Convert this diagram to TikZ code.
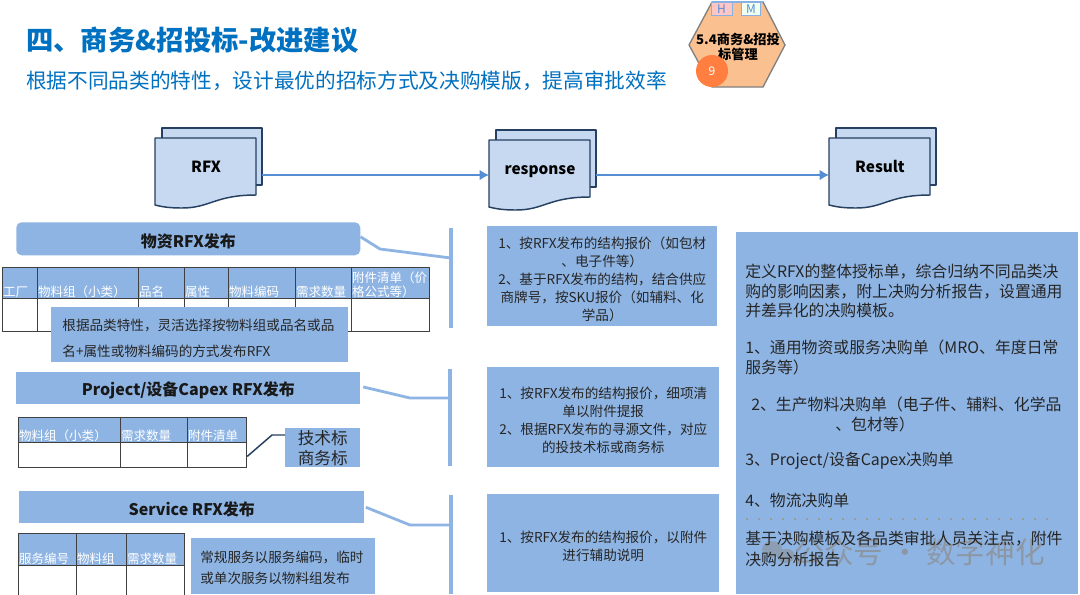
\documentclass[tikz,border=0pt]{standalone}
\usepackage{fontspec}
\usetikzlibrary{arrows.meta}
\setmainfont{Noto Sans CJK SC}
\newcommand{\fs}[2]{\fontsize{#1}{#2}\selectfont}
\definecolor{barblue}{HTML}{8EB4E3}
\definecolor{docfill}{HTML}{C6D9F1}
\definecolor{docline}{HTML}{254061}
\definecolor{linkblue}{HTML}{558ED5}
\definecolor{titleblue}{HTML}{0070C0}
\definecolor{hexfill}{HTML}{FAC090}
\definecolor{gridc}{HTML}{404040}
\tikzset{
 x=0.75pt,y=-0.75pt,
 bluebox/.style={fill=barblue,inner sep=0pt,text=black,align=center},
 bartext/.style={font=\fs{12}{14}\bfseries,text=black!90},
 hlink/.style={draw=barblue,line width=2.1pt,line join=round},
 vbar/.style={draw=barblue,line width=2.5pt},
 body/.style={font=\fs{10.2}{13.5},text=black!85,align=center,inner sep=0pt},
 rtext/.style={font=\fs{11.9}{14.6},text=black!85,align=left,inner sep=0pt,anchor=north west},
 hcell/.style={draw=gridc,line width=0.9pt,fill=barblue,inner sep=0pt},
 bcell/.style={draw=gridc,line width=0.9pt,fill=white,inner sep=0pt},
 htext/.style={font=\fs{9.4}{10.2},text=white,inner sep=0pt,anchor=south west,align=left},
 docshape/.style={draw=docline,fill=docfill,line width=1.1pt,line join=round},
 flow/.style={draw=linkblue,line width=2pt,-{Latex[length=7pt,width=8pt]}},
}
% \tblcell{name}{x1}{x2}{ytop}{ymid}{ybot}{header}
\newcommand{\tblcell}[7]{%
 \node[hcell,minimum width={(#3-#2)*0.75pt},minimum height={(#5-#4)*0.75pt},anchor=north west] (#1h) at (#2,#4) {};
 \node[bcell,minimum width={(#3-#2)*0.75pt},minimum height={(#6-#5)*0.75pt},anchor=north west] (#1b) at (#2,#5) {};
 \node[htext,text width={(#3-#2)*0.75pt}] (#1t) at ([xshift=0.6pt,yshift=1pt]#1h.south west) {#7};
}
% \docs{name}{x}{y}{label}
\newcommand{\docs}[4]{%
 \begin{scope}[shift={(#2,#3)}]
 \draw[docshape] (7,-10) -- (107,-10) -- (107,47) -- (7,47) -- cycle;
 \draw[docshape] (0,0) -- (101,0) -- (101,57) .. controls (60,57) and (55,70) .. (27,70) .. controls (15,70) and (8,69) .. (0,67) -- cycle;
 \node[font=\fs{11.5}{13}\bfseries,text=black,inner sep=0pt,anchor=base] (#1) at (51,34.5) {#4};
 \coordinate (#1w) at (0,175-#3);
 \coordinate (#1e) at (107,175-#3);
 \end{scope}}
\begin{document}
\begin{tikzpicture}
\useasboundingbox (0,0) rectangle (1080,594);
\fill[white] (0,0) rectangle (1080,594);
% titles
\node[anchor=west,inner sep=0pt,font=\fs{20.5}{24}\bfseries,text=titleblue] (title) at (26,40) {四、商务\&招投标-改进建议};
\node[anchor=west,inner sep=0pt,font=\fs{15.5}{18},text=titleblue] (subtitle) at (26,81) {根据不同品类的特性，设计最优的招标方式及决购模版，提高审批效率};
% hexagon
\draw[fill=hexfill,draw=gray,line width=1pt] (689,45)--(712,2)--(763,2)--(785,45)--(763,87)--(712,87)--cycle;
\node[draw=linkblue!70,fill=pink!90!white,minimum width=15.5pt,minimum height=10pt,inner sep=0pt,font=\fs{9}{9},text=linkblue,anchor=north west] (hbox) at (711,2) {H};
\node[draw=linkblue!70,fill=green!6!white,minimum width=14.5pt,minimum height=10pt,inner sep=0pt,font=\fs{9}{9},text=linkblue,anchor=north west] (mbox) at (741,2) {M};
\draw[linkblue!70,line width=0.8pt] (712,2)--(763,2);
\node[font=\fs{9.9}{11.5}\bfseries,align=center,text=black,inner sep=0pt] (hexlabel) at (738,47) {5.4商务\&招投\\标管理};
\node[circle,fill=orange!65!red!75!white,minimum size=24pt,inner sep=0pt,font=\fs{9}{9},text=white] (nine) at (712,71) {9};
% documents
\docs{rfx}{155}{138}{RFX}
\docs{resp}{489}{140}{response}
\docs{res}{829}{138}{Result}
\draw[flow] (rfxe) -- (respw);
\draw[flow] (respe) -- (resw);
% section bars
\node[bluebox,rounded corners=4pt,minimum width=258pt,minimum height=24.75pt,anchor=north west] (bar1) at (16,222) {};
\node[bartext] (bar1t) at ([yshift=-1.9pt]bar1.center) {物资RFX发布};
\node[bluebox,minimum width=258pt,minimum height=24pt,anchor=north west] (bar2) at (16,372) {};
\node[bartext] (bar2t) at ([yshift=-1.9pt]bar2.center) {Project/设备Capex RFX发布};
\node[bluebox,minimum width=258.75pt,minimum height=24pt,anchor=north west] (bar3) at (19,491) {};
\node[bartext] (bar3t) at ([yshift=-1.9pt]bar3.center) {Service RFX发布};
% brackets
\coordinate (b1a) at (451,228); \coordinate (b1b) at (451,328); \coordinate (b1k) at (451,258);
\coordinate (b2a) at (450,369); \coordinate (b2b) at (450,466); \coordinate (b2k) at (450,398);
\coordinate (b3a) at (451,495); \coordinate (b3b) at (451,594); \coordinate (b3k) at (451,525);
\draw[vbar] (b1a)--(b1b); \draw[vbar] (b2a)--(b2b); \draw[vbar] (b3a)--(b3b);
\draw[hlink] ([yshift=1.5pt]bar1.east) -- (380,249) -- (b1k);
\draw[hlink] ([xshift=2pt,yshift=1pt]bar2.east) -- (410,398) -- (b2k);
\draw[hlink] ([xshift=1pt]bar3.east) -- (410,525) -- (b3k);
% table 1
\tblcell{ta}{2}{37}{267}{298}{331}{工厂}
\tblcell{tb}{37}{138}{267}{298}{331}{物料组（小类）}
\tblcell{tc}{138}{184}{267}{298}{331}{品名}
\tblcell{td}{184}{228}{267}{298}{331}{属性}
\tblcell{te}{228}{295}{267}{298}{331}{物料编码}
\tblcell{tf}{295}{351}{267}{298}{331}{需求数量}
\tblcell{tg}{351}{429}{267}{298}{331}{附件清单（价\\格公式等）}
\node[bluebox,minimum width=222.75pt,minimum height=41.25pt,anchor=north west] (note1) at (51,307) {};
\node[body,align=left,font=\fs{10.2}{19.5}] (note1t) at ([xshift=-1pt,yshift=-3pt]note1.center) {根据品类特性，灵活选择按物料组或品名或品\\名+属性或物料编码的方式发布RFX};
% table 2
\tblcell{ua}{18}{120}{417}{442}{467}{物料组（小类）}
\tblcell{ub}{120}{187}{417}{442}{467}{需求数量}
\tblcell{uc}{187}{246}{417}{442}{467}{附件清单}
\node[bluebox,minimum width=56.25pt,minimum height=29.25pt,anchor=north west,font=\fs{12.5}{15},text=black!85] (tech) at (285,428) {技术标\\商务标};
\coordinate (j2) at (272,435);
\draw[draw=docline,line width=1.1pt] ([yshift=-1pt]ucb.east) -- (j2) -- (tech.west |- j2);
% table 3
\tblcell{va}{18}{76}{533}{565}{600}{服务编号}
\tblcell{vb}{76}{126}{533}{565}{600}{物料组}
\tblcell{vc}{126}{184}{533}{565}{600}{需求数量}
\node[bluebox,minimum width=138pt,minimum height=42pt,anchor=north west] (note3) at (191,538) {};
\node[body,align=left,font=\fs{10.2}{15.75}] (note3t) at ([xshift=-1pt,yshift=-1pt]note3.center) {常规服务以服务编码，临时\\或单次服务以物料组发布};
% middle boxes
\node[bluebox,minimum width=172.5pt,minimum height=75pt,anchor=north west] (m1) at (487,226) {};
\node[body] (m1t) at ([yshift=-2.25pt]m1.center) {1、按RFX发布的结构报价（如包材\\、电子件等）\\2、基于RFX发布的结构，结合供应\\商牌号，按SKU报价（如辅料、化\\学品）};
\node[bluebox,minimum width=174pt,minimum height=75pt,anchor=north west] (m2) at (487,367) {};
\node[body] (m2t) at ([yshift=-2.25pt]m2.center) {1、按RFX发布的结构报价，细项清\\单以附件提报\\2、根据RFX发布的寻源文件，对应\\的投技术标或商务标};
\node[bluebox,minimum width=174pt,minimum height=73.5pt,anchor=north west] (m3) at (487,494) {};
\node[body] (m3t) at ([yshift=-2.25pt]m3.center) {1、按RFX发布的结构报价，以附件\\进行辅助说明};
% right box
\node[bluebox,minimum width=256.5pt,minimum height=271.5pt,anchor=north west] (r) at (736,232) {};
\node[rtext] (r1) at (745,264) {定义RFX的整体授标单，综合归纳不同品类决\\购的影响因素，附上决购分析报告，设置通用\\并差异化的决购模板。};
\node[rtext] (r2) at (745,340) {1、通用物资或服务决购单（MRO、年度日常\\服务等）};
\node[rtext] (r3) at (751,397) {2、生产物料决购单（电子件、辅料、化学品\\\hspace*{5.3em}、包材等）};
\node[rtext] (r4) at (745,452) {3、Project/设备Capex决购单};
\node[rtext] (r5) at (745,493) {4、物流决购单};
\draw[gray!80,line width=1.5pt,dash pattern=on 1.5pt off 7.5pt] (746,519) -- (1058,519);
% watermark
\fill[black!45,opacity=.55] (772,549) ellipse (10 and 8) (786,556) ellipse (9 and 7);
\node[font=\fs{22.2}{24},text=black!45,opacity=.7,anchor=east,inner sep=0pt] (mark) at (1045,552) {公众号 · 数字神化};
\node[rtext,font=\fs{11.9}{15.75}] (r6) at (745,531) {基于决购模板及各品类审批人员关注点，附件\\决购分析报告};
\end{tikzpicture}
\end{document}
